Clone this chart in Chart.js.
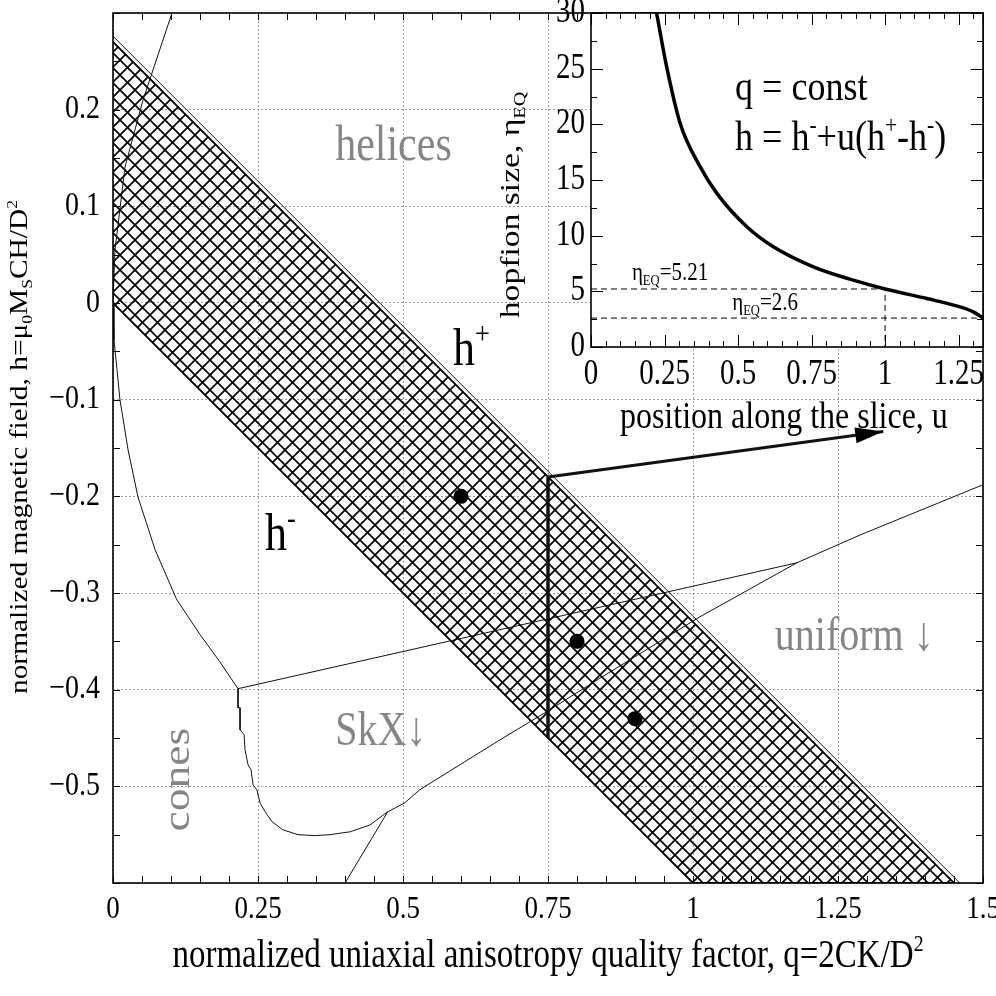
<!DOCTYPE html>
<html>
<head>
<meta charset="utf-8">
<script src="https://cdn.jsdelivr.net/npm/chart.js@4.4.0/dist/chart.umd.min.js"></script>
<style>
html, body { margin: 0; padding: 0; background: #fff; }
#wrap { position: relative; width: 996px; height: 996px; }
#main { position: absolute; left: 0; top: 0; }
#inset { position: absolute; left: 490px; top: 0; }
</style>
</head>
<body>
<div id="wrap">
<canvas id="main" width="996" height="996"></canvas>
<canvas id="inset" width="506" height="400"></canvas>
</div>
<script>
// osy a popisky
const qTicks = [0, 0.25, 0.5, 0.75, 1, 1.25, 1.5];
const hTicks = [-0.6, -0.5, -0.4, -0.3, -0.2, -0.1, 0, 0.1, 0.2, 0.3];
const hLabeled = [-0.5, -0.4, -0.3, -0.2, -0.1, 0, 0.1, 0.2];
const uTicks = [0, 0.25, 0.5, 0.75, 1, 1.25];
const etaTicks = [0, 5, 10, 15, 20, 25, 30];

// srafovany pas mezi h- a h+
const bandQ = [0, 1.45, 1.0, 0];
const bandH = [0.27, -0.6, -0.6, 0];
const edgeQ = [0, 1.46];
const edgeH = [0.276, -0.6];

// hranice fazi
const conesQ = [0.1017, 0.0517, 0.0207, 0.0034, 0, 0.0017, 0.0069, 0.012, 0.026, 0.043, 0.0724, 0.110, 0.15, 0.184, 0.2155];
const conesH = [0.3, 0.21, 0.1407, 0.055, 0, -0.038, -0.069, -0.1, -0.152, -0.2005, -0.255, -0.307, -0.343, -0.371, -0.399];
const skxTopQ = [0.2155, 1.179];
const skxTopH = [-0.399, -0.2688];
const skxLowQ = [0.2155, 0.2155, 0.219, 0.219, 0.226, 0.2276, 0.2328, 0.238, 0.2414, 0.248, 0.2534, 0.262, 0.274, 0.293, 0.319, 0.348, 0.374, 0.409, 0.443, 0.472, 0.503, 0.529, 0.667, 0.75, 0.84, 1.012, 1.179, 1.288, 1.5];
const skxLowH = [-0.399, -0.4187, -0.4187, -0.4415, -0.4466, -0.462, -0.4777, -0.4828, -0.4983, -0.5035, -0.517, -0.526, -0.5366, -0.545, -0.55, -0.551, -0.55, -0.547, -0.54, -0.527, -0.517, -0.5035, -0.452, -0.422, -0.388, -0.3246, -0.2688, -0.24, -0.188];
const tailQ = [0.4, 0.474];
const tailH = [-0.6, -0.526];

// rez pri q = 0.75 a sipka k vlozenemu grafu
const sliceQ = [0.75, 0.75];
const sliceH = [-0.18, -0.45];
const arrowQ = [0.75, 1.328];
const arrowH = [-0.18, -0.133];
const dotQ = [0.6, 0.8, 0.9];
const dotH = [-0.2, -0.35, -0.43];

// vlozeny graf: velikost hopfionu podel rezu
const uCurve = [0.223, 0.257, 0.303, 0.371, 0.428, 0.53, 0.62, 0.756, 0.892, 1.0, 1.142, 1.255, 1.3, 1.333];
const etaCurve = [30, 25.2, 20.1, 16.2, 13.8, 10.8, 9.0, 7.2, 6.0, 5.21, 4.35, 3.6, 3.15, 2.6];
const eq1U = [0, 1, 1];
const eq1Eta = [5.21, 5.21, 0];
const eq2U = [0, 1.333];
const eq2Eta = [2.6, 2.6];

const FONT = '"Liberation Serif", "Times New Roman", serif';
const SY = 1.2;
const GREY = '#858585';

const pts = (xs, ys) => xs.map((x, i) => ({ x: x, y: ys[i] }));
const fmt = v => (v < 0 ? '\u2212' + String(-v) : String(v));
const isMult = (v, m) => Math.abs(v / m - Math.round(v / m)) < 1e-6;

function drawRich(ctx, parts, x, y, o) {
    const size = o.size;
    const small = size * 0.6;
    ctx.save();
    ctx.translate(x, y);
    ctx.scale(1, SY);
    if (o.rot) ctx.rotate(o.rot);
    ctx.fillStyle = o.color || '#000';
    ctx.textBaseline = o.base || 'alphabetic';
    ctx.textAlign = 'left';
    const items = parts.map(p => (typeof p === 'string' ? [p, 'n'] : p));
    let w = 0;
    items.forEach(([t, k]) => {
        ctx.font = (k === 'n' ? size : small) + 'px ' + FONT;
        w += ctx.measureText(t).width;
    });
    let cx = o.align === 'center' ? -w / 2 : (o.align === 'right' ? -w : 0);
    items.forEach(([t, k]) => {
        ctx.font = (k === 'n' ? size : small) + 'px ' + FONT;
        const dy = k === 'sup' ? -size * 0.4 : (k === 'sub' ? size * 0.2 : 0);
        ctx.fillText(t, cx, dy);
        cx += ctx.measureText(t).width;
    });
    ctx.restore();
}

function frameAndTicks(chart, xStep, yStep, len, xMajor, yMajor, majorLen) {
    const ctx = chart.ctx;
    const { left, right, top, bottom } = chart.chartArea;
    const xs = chart.scales.x, ys = chart.scales.y;
    ctx.save();
    ctx.strokeStyle = '#000';
    ctx.lineWidth = 1;
    ctx.beginPath();
    const nx = Math.floor((xs.max - xs.min) / xStep + 1e-6);
    for (let i = 0; i <= nx; i++) {
        const v = xs.min + i * xStep;
        const px = Math.round(xs.getPixelForValue(v)) + 0.5;
        const l = xMajor && isMult(v, xMajor) ? majorLen : len;
        ctx.moveTo(px, bottom); ctx.lineTo(px, bottom - l);
        ctx.moveTo(px, top); ctx.lineTo(px, top + l);
    }
    const ny = Math.floor((ys.max - ys.min) / yStep + 1e-6);
    for (let i = 0; i <= ny; i++) {
        const v = ys.min + i * yStep;
        const py = Math.round(ys.getPixelForValue(v)) + 0.5;
        const l = yMajor && isMult(v, yMajor) ? majorLen : len;
        ctx.moveTo(left, py); ctx.lineTo(left + l, py);
        ctx.moveTo(right, py); ctx.lineTo(right - l, py);
    }
    ctx.stroke();
    ctx.lineWidth = 1.6;
    ctx.strokeRect(left, top, right - left, bottom - top);
    ctx.restore();
}

function makeHatch() {
    const s = 15;
    const c = document.createElement('canvas');
    c.width = s; c.height = s;
    const g = c.getContext('2d');
    g.strokeStyle = '#000';
    g.lineWidth = 1.7;
    for (const o of [-s, 0, s]) {
        g.beginPath(); g.moveTo(o, 0); g.lineTo(o + s, s); g.stroke();
        g.beginPath(); g.moveTo(o, s); g.lineTo(o + s, 0); g.stroke();
    }
    return g.createPattern(c, 'repeat');
}

const thin = (xs, ys, w) => ({
    data: pts(xs, ys), showLine: true, borderColor: '#111', borderWidth: w || 1,
    pointRadius: 0, fill: false, tension: 0
});

// hlavni graf
const mainDecor = {
    id: 'mainDecor',
    beforeDatasetsDraw(chart) {
        const ctx = chart.ctx;
        const xs = chart.scales.x, ys = chart.scales.y;
        const P = (q, h) => [xs.getPixelForValue(q), ys.getPixelForValue(h)];
        let p;
        p = P(0.383, 0.148); drawRich(ctx, ['helices'], p[0], p[1], { size: 42, color: GREY });
        p = P(1.141, -0.359); drawRich(ctx, ['uniform \u2193'], p[0], p[1], { size: 40, color: GREY });
        p = P(0.383, -0.457); drawRich(ctx, ['SkX\u2193'], p[0], p[1], { size: 40, color: GREY });
        p = P(0.11, -0.493); drawRich(ctx, ['cones'], p[0] + 12, p[1], { size: 38, color: GREY, rot: -Math.PI / 2, align: 'center' });
        p = P(0.586, -0.064); drawRich(ctx, ['h', ['+', 'sup']], p[0], p[1], { size: 44 });
        p = P(0.262, -0.255); drawRich(ctx, ['h', ['-', 'sup']], p[0], p[1], { size: 44 });
        p = P(0.874, -0.129); drawRich(ctx, ['position along the slice, u'], p[0], p[1], { size: 32 });
    },
    afterDatasetsDraw(chart) {
        const ctx = chart.ctx;
        const xs = chart.scales.x, ys = chart.scales.y;
        const { left, bottom } = chart.chartArea;
        // hrot sipky
        const x0 = xs.getPixelForValue(arrowQ[0]), y0 = ys.getPixelForValue(arrowH[0]);
        const x1 = xs.getPixelForValue(arrowQ[1]), y1 = ys.getPixelForValue(arrowH[1]);
        const a = Math.atan2(y1 - y0, x1 - x0);
        ctx.save();
        ctx.fillStyle = '#000';
        ctx.beginPath();
        ctx.moveTo(x1, y1);
        ctx.lineTo(x1 - 28 * Math.cos(a) + 8 * Math.sin(a), y1 - 28 * Math.sin(a) - 8 * Math.cos(a));
        ctx.lineTo(x1 - 28 * Math.cos(a) - 8 * Math.sin(a), y1 - 28 * Math.sin(a) + 8 * Math.cos(a));
        ctx.closePath();
        ctx.fill();
        ctx.restore();

        frameAndTicks(chart, 0.05, 0.05, 7);

        qTicks.forEach(v => drawRich(ctx, [fmt(v)], xs.getPixelForValue(v), bottom + 26, { size: 27, align: 'center', base: 'middle' }));
        hLabeled.forEach(v => drawRich(ctx, [fmt(v)], left - 13, ys.getPixelForValue(v), { size: 28, align: 'right', base: 'middle' }));

        drawRich(ctx, ['normalized uniaxial anisotropy quality factor, q=2CK/D', ['2', 'sup']],
            (chart.chartArea.left + chart.chartArea.right) / 2, 967, { size: 33, align: 'center' });
        drawRich(ctx, ['normalized magnetic field, h=\u03bc', ['0', 'sub'], 'M', ['S', 'sub'], 'CH/D', ['2', 'sup']],
            27, 447, { size: 24.5, align: 'center', rot: -Math.PI / 2 });
    }
};

new Chart(document.getElementById('main').getContext('2d'), {
    type: 'scatter',
    data: {
        datasets: [
            { data: pts(dotQ, dotH), pointRadius: 7.5, pointBackgroundColor: '#000', pointBorderWidth: 0, showLine: false },
            thin(arrowQ, arrowH, 3),
            thin(sliceQ, sliceH, 3.5),
            thin(conesQ, conesH, 1),
            thin(skxTopQ, skxTopH, 1),
            thin(skxLowQ, skxLowH, 1),
            thin(tailQ, tailH, 1),
            thin(edgeQ, edgeH, 1),
            {
                data: pts(bandQ, bandH), showLine: true, fill: 'shape',
                backgroundColor: makeHatch(), borderColor: '#000', borderWidth: 1.8,
                pointRadius: 0, tension: 0
            }
        ]
    },
    options: {
        responsive: false,
        animation: false,
        devicePixelRatio: 1,
        events: [],
        layout: { padding: { left: 113, right: 13, top: 13, bottom: 113 } },
        plugins: { legend: { display: false }, tooltip: { enabled: false } },
        scales: {
            x: {
                type: 'linear', min: 0, max: 1.5,
                ticks: { display: false },
                grid: { color: '#a0a0a0', lineWidth: 1, drawTicks: false },
                border: { display: false, dash: [2, 2] },
                afterBuildTicks: s => { s.ticks = qTicks.map(v => ({ value: v })); },
                afterFit: s => { s.height = 0; }
            },
            y: {
                type: 'linear', min: -0.6, max: 0.3,
                ticks: { display: false },
                grid: { color: '#a0a0a0', lineWidth: 1, drawTicks: false },
                border: { display: false, dash: [2, 2] },
                afterBuildTicks: s => { s.ticks = hTicks.map(v => ({ value: v })); },
                afterFit: s => { s.width = 0; }
            }
        }
    },
    plugins: [mainDecor]
});

// vlozeny graf
const insetDecor = {
    id: 'insetDecor',
    beforeDraw(chart) {
        const { left, right, top, bottom } = chart.chartArea;
        const ctx = chart.ctx;
        ctx.save();
        ctx.fillStyle = '#fff';
        ctx.fillRect(left, top, right - left, bottom - top);
        ctx.restore();
    },
    afterDatasetsDraw(chart) {
        const ctx = chart.ctx;
        const xs = chart.scales.x, ys = chart.scales.y;
        const { left, bottom } = chart.chartArea;
        const P = (u, e) => [xs.getPixelForValue(u), ys.getPixelForValue(e)];
        let p;
        p = P(0.49, 22.2); drawRich(ctx, ['q = const'], p[0], p[1], { size: 36 });
        p = P(0.49, 17.7); drawRich(ctx, ['h = h', ['-', 'sup'], '+u(h', ['+', 'sup'], '-h', ['-', 'sup'], ')'], p[0], p[1], { size: 36 });
        p = P(0.139, 6.0); drawRich(ctx, ['\u03b7', ['EQ', 'sub'], '=5.21'], p[0], p[1], { size: 21 });
        p = P(0.48, 3.3); drawRich(ctx, ['\u03b7', ['EQ', 'sub'], '=2.6'], p[0], p[1], { size: 21 });

        frameAndTicks(chart, 0.05, 2.5, 6, 0.25, 5, 12);

        uTicks.forEach(v => drawRich(ctx, [fmt(v)], xs.getPixelForValue(v), bottom + 28, { size: 29, align: 'center', base: 'middle' }));
        etaTicks.forEach(v => drawRich(ctx, [fmt(v)], left - 6, ys.getPixelForValue(v), { size: 29, align: 'right', base: 'middle' }));
        drawRich(ctx, ['hopfion size, \u03b7', ['EQ', 'sub']], 29, 205, { size: 28, align: 'center', rot: -Math.PI / 2 });
    }
};

new Chart(document.getElementById('inset').getContext('2d'), {
    type: 'scatter',
    data: {
        datasets: [
            {
                data: pts(uCurve, etaCurve), showLine: true, borderColor: '#000', borderWidth: 3.5,
                pointRadius: 0, cubicInterpolationMode: 'monotone'
            },
            {
                data: pts(eq1U, eq1Eta), showLine: true, borderColor: '#000', borderWidth: 1,
                borderDash: [6, 4], pointRadius: 0
            },
            {
                data: pts(eq2U, eq2Eta), showLine: true, borderColor: '#000', borderWidth: 1,
                borderDash: [6, 4], pointRadius: 0
            }
        ]
    },
    options: {
        responsive: false,
        animation: false,
        devicePixelRatio: 1,
        events: [],
        layout: { padding: { left: 101, right: 13, top: 13, bottom: 53 } },
        plugins: { legend: { display: false }, tooltip: { enabled: false } },
        scales: {
            x: {
                type: 'linear', min: 0, max: 1.333,
                ticks: { display: false }, grid: { display: false }, border: { display: false },
                afterFit: s => { s.height = 0; }
            },
            y: {
                type: 'linear', min: 0, max: 30,
                ticks: { display: false }, grid: { display: false }, border: { display: false },
                afterFit: s => { s.width = 0; }
            }
        }
    },
    plugins: [insetDecor]
});
</script>
</body>
</html>
